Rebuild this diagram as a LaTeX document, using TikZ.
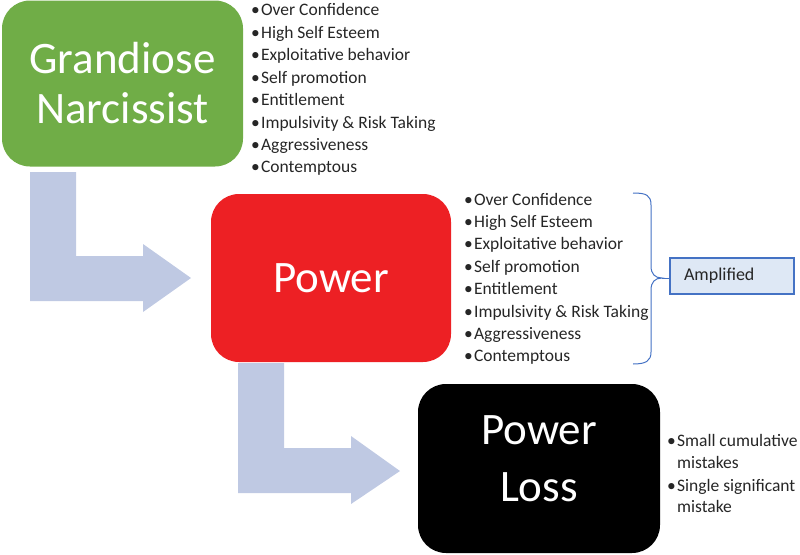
\documentclass[tikz,border=0pt]{standalone}
\usepackage{fontspec}
\setmainfont{Carlito}
\usepackage{tikz}
\usetikzlibrary{positioning,calc}

\definecolor{grandgreen}{HTML}{70AD47}
\definecolor{powerred}{HTML}{ED2024}
\definecolor{arrowblue}{HTML}{BFC9E3}
\definecolor{braceblue}{HTML}{4472C4}
\definecolor{ampfill}{HTML}{DEE8F5}
\definecolor{itemtext}{HTML}{262626}
\newcommand{\blt}{•\kern1.2pt}

\begin{document}
\begin{tikzpicture}[x=1pt,y=-1pt,
    bigbox/.style={rounded corners=28pt,inner sep=0pt,text=white,align=center,
      font=\fontsize{45}{50}\selectfont},
    trait/.style={anchor=base west,inner sep=0pt,text=itemtext,
      font=\fontsize{17.5}{22}\selectfont}]
  \useasboundingbox (0,0) rectangle (800,554);

  % bent arrows
  \fill[arrowblue] (30,172) -- (76,172) -- (76,256) -- (143,256) -- (143,244)
    -- (191,278) -- (143,312) -- (143,301) -- (30,301) -- cycle;
  \fill[arrowblue] (238,363) -- (284,363) -- (284,448) -- (351,448) -- (351,436)
    -- (400,471) -- (351,504) -- (351,493) -- (238,493) -- cycle;

  % boxes
  \node[bigbox,fill=grandgreen,minimum width=241pt,minimum height=166pt] (grand) at (122.5,83.5) {Grandiose\\Narcissist};
  \node[bigbox,fill=powerred,minimum width=240pt,minimum height=168pt] (power) at (331,278) {Power};
  \node[bigbox,fill=black,minimum width=242pt,minimum height=169pt,text depth=20pt,
    font=\fontsize{45}{57}\selectfont] (loss) at (539,468.5) {Power\\Loss};

  % trait lists
  \foreach \t [count=\i] in {Over Confidence,High Self Esteem,Exploitative behavior,
      Self promotion,Entitlement,Impulsivity \& Risk Taking,Aggressiveness,Contemptous}{
    \node[trait] (gtrait\i) at (251,{16+22.4*(\i-1)}) {\blt\t};
    \node[trait] (ptrait\i) at (464,{205+22.4*(\i-1)}) {\blt\t};
  }

  \node[trait] (mist1) at (667,446) {\blt Small cumulative};
  \node[trait] (mist1b) at (667,468) {\phantom{\blt}mistakes};
  \node[trait] (mist2) at (667,491) {\blt Single significant};
  \node[trait] (mist2b) at (667,512) {\phantom{\blt}mistake};

  % brace and amplified
  \node[draw=braceblue,line width=1.6pt,fill=ampfill,minimum width=124pt,minimum height=36pt,
    inner sep=0pt,text width=96pt,align=left,text=itemtext,
    font=\fontsize{18}{22}\selectfont] (amp) at (732,276) {Amplified};
  \draw[braceblue,line width=1pt] (633,193) .. controls (646,193) and (651,195) .. (651,205)
    -- (651,266) .. controls (651,274) and (655,278) .. (662,278) coordinate (tip)
    .. controls (655,278) and (651,282) .. (651,290) -- (651,352)
    .. controls (651,361) and (646,364) .. (633,364);
  \draw[braceblue,line width=1pt] (tip) -- (tip -| amp.west);
\end{tikzpicture}
\end{document}
